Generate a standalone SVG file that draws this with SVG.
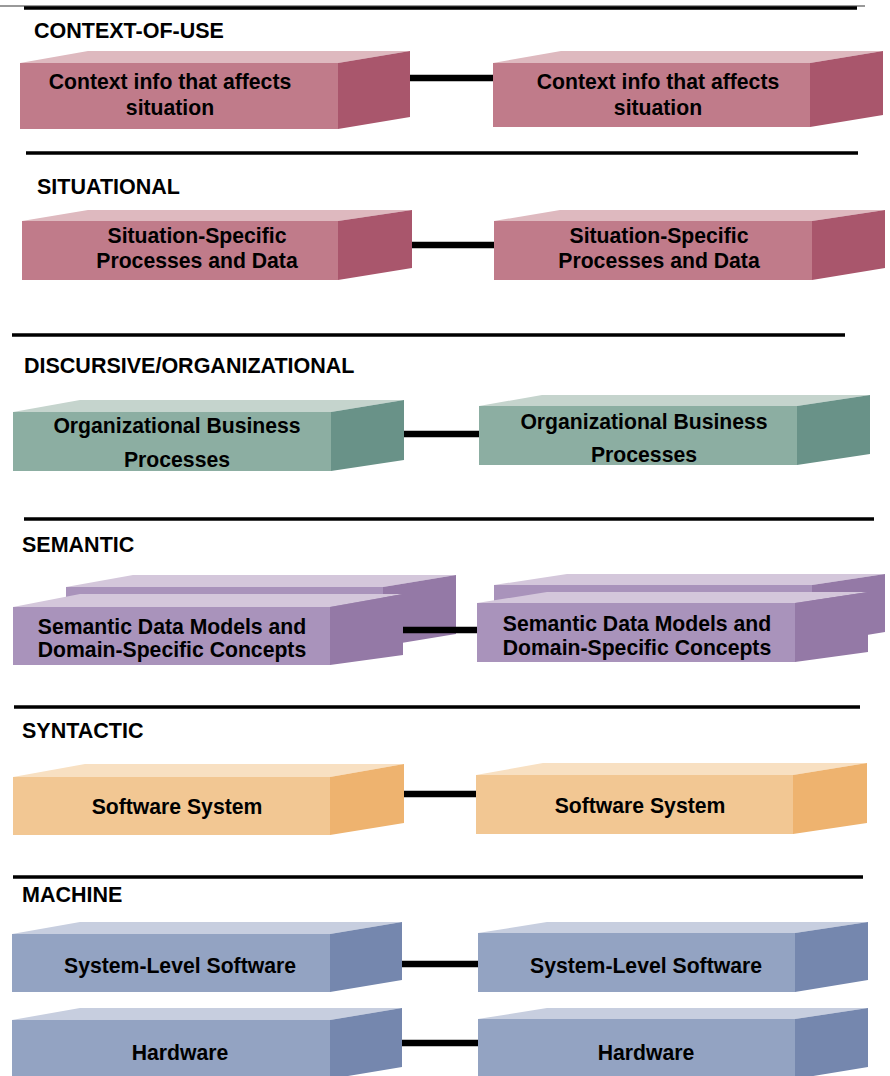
<svg xmlns="http://www.w3.org/2000/svg" width="890" height="1076" viewBox="0 0 890 1076">
<style>
text{font-family:"Liberation Sans",Arial,sans-serif;font-weight:bold;font-size:21.2px;fill:#000}
.lbl{text-anchor:start;font-size:21.5px}
.t{text-anchor:middle}
.sep{stroke:#000;stroke-width:3.5;fill:none}
.con{stroke:#000;stroke-width:6.5;fill:none}
.pk .f{fill:#C07B8A}.pk .u{fill:#DEB9BF}.pk .s{fill:#A9566C}
.gr .f{fill:#8CAEA2}.gr .u{fill:#C5D4CD}.gr .s{fill:#699288}
.pu .f{fill:#A993BB}.pu .u{fill:#D4C7DB}.pu .s{fill:#9479A6}
.or .f{fill:#F2C793}.or .u{fill:#F8E0C2}.or .s{fill:#EEB36F}
.bl .f{fill:#93A3C2}.bl .u{fill:#C7CEDF}.bl .s{fill:#7587AE}
</style>
<rect width="890" height="1076" fill="#fff"/>
<g id="separators">
<line x1="0" y1="6" x2="865" y2="6" stroke="#999" stroke-width="2"/>
<line class="sep" x1="24" y1="8" x2="857" y2="8"/>
<line class="sep" x1="26" y1="153" x2="858" y2="153"/>
<line class="sep" x1="12" y1="335" x2="845" y2="335"/>
<line class="sep" x1="24" y1="519" x2="874" y2="519"/>
<line class="sep" x1="14" y1="707" x2="860" y2="707"/>
<line class="sep" x1="13" y1="877" x2="863" y2="877"/>
</g>
<g id="labels">
<text class="lbl" x="34" y="38">CONTEXT-OF-USE</text>
<text class="lbl" x="37" y="194">SITUATIONAL</text>
<text class="lbl" x="24" y="373">DISCURSIVE/ORGANIZATIONAL</text>
<text class="lbl" x="22" y="552">SEMANTIC</text>
<text class="lbl" x="22" y="738">SYNTACTIC</text>
<text class="lbl" x="22" y="902">MACHINE</text>
</g>
<g id="ctx-left" class="pk">
<rect class="f" x="20" y="63" width="318" height="66"/>
<polygon class="u" points="20,63 88,51 410,51 338,63"/>
<polygon class="s" points="338,63 410,51 410,117 338,129"/>
<text class="t" x="170" y="89">Context info that affects</text>
<text class="t" x="170" y="115">situation</text>
</g>
<g id="ctx-right" class="pk">
<rect class="f" x="493" y="63" width="317" height="64"/>
<polygon class="u" points="493,63 561,51 883,51 810,63"/>
<polygon class="s" points="810,63 883,51 883,115 810,127"/>
<text class="t" x="658" y="89">Context info that affects</text>
<text class="t" x="658" y="115">situation</text>
</g>
<g id="sit-left" class="pk">
<rect class="f" x="22" y="221" width="316" height="59"/>
<polygon class="u" points="22,221 88,210 412,210 338,221"/>
<polygon class="s" points="338,221 412,210 412,268 338,280"/>
<text class="t" x="197" y="243">Situation-Specific</text>
<text class="t" x="197" y="268">Processes and Data</text>
</g>
<g id="sit-right" class="pk">
<rect class="f" x="494" y="221" width="318" height="59"/>
<polygon class="u" points="494,221 560,210 885,210 812,221"/>
<polygon class="s" points="812,221 885,210 885,268 812,280"/>
<text class="t" x="659" y="243">Situation-Specific</text>
<text class="t" x="659" y="268">Processes and Data</text>
</g>
<g id="disc-left" class="gr">
<rect class="f" x="13" y="412" width="318" height="59"/>
<polygon class="u" points="13,412 80,400 404,400 331,412"/>
<polygon class="s" points="331,412 404,400 404,460 331,471"/>
<text class="t" x="177" y="433">Organizational Business</text>
<text class="t" x="177" y="467">Processes</text>
</g>
<g id="disc-right" class="gr">
<rect class="f" x="479" y="406" width="318" height="59"/>
<polygon class="u" points="479,406 542,395 870,395 797,406"/>
<polygon class="s" points="797,406 870,395 870,454 797,465"/>
<text class="t" x="644" y="429">Organizational Business</text>
<text class="t" x="644" y="462">Processes</text>
</g>
<g id="sem-left-back" class="pu">
<rect class="f" x="66" y="587" width="317" height="59"/>
<polygon class="u" points="66,587 133,575 456,575 383,587"/>
<polygon class="s" points="383,587 456,575 456,634 383,646"/>
</g>
<g id="sem-right-back" class="pu">
<rect class="f" x="494" y="585" width="318" height="59"/>
<polygon class="u" points="494,585 567,574 885,574 812,585"/>
<polygon class="s" points="812,585 885,574 885,632 812,644"/>
</g>
<g id="connectors">
<line class="con" x1="410" y1="78" x2="493" y2="78"/>
<line class="con" x1="412" y1="245" x2="494" y2="245"/>
<line class="con" x1="404" y1="434" x2="479" y2="434"/>
<line class="con" x1="403" y1="630" x2="477" y2="630"/>
<line class="con" x1="404" y1="794" x2="476" y2="794"/>
<line class="con" x1="402" y1="964" x2="478" y2="964"/>
<line class="con" x1="402" y1="1043" x2="478" y2="1043"/>
</g>
<g id="sem-left" class="pu">
<rect class="f" x="13" y="607" width="317" height="58"/>
<polygon class="u" points="13,607 80,594 403,594 330,607"/>
<polygon class="s" points="330,607 403,594 403,655 330,665"/>
<text class="t" x="172" y="634">Semantic Data Models and</text>
<text class="t" x="172" y="657">Domain-Specific Concepts</text>
</g>
<g id="sem-right" class="pu">
<rect class="f" x="477" y="603" width="318" height="59"/>
<polygon class="u" points="477,603 547,592 868,592 795,603"/>
<polygon class="s" points="795,603 868,592 868,652 795,662"/>
<text class="t" x="637" y="631">Semantic Data Models and</text>
<text class="t" x="637" y="655">Domain-Specific Concepts</text>
</g>
<g id="syn-left" class="or">
<rect class="f" x="13" y="777" width="317" height="58"/>
<polygon class="u" points="13,777 85,764 404,764 330,777"/>
<polygon class="s" points="330,777 404,764 404,823 330,835"/>
<text class="t" x="177" y="814">Software System</text>
</g>
<g id="syn-right" class="or">
<rect class="f" x="476" y="775" width="317" height="59"/>
<polygon class="u" points="476,775 543,763 867,763 793,775"/>
<polygon class="s" points="793,775 867,763 867,823 793,834"/>
<text class="t" x="640" y="813">Software System</text>
</g>
<g id="sls-left" class="bl">
<rect class="f" x="12" y="934" width="318" height="58"/>
<polygon class="u" points="12,934 80,922 402,922 330,934"/>
<polygon class="s" points="330,934 402,922 402,980 330,992"/>
<text class="t" x="180" y="973">System-Level Software</text>
</g>
<g id="sls-right" class="bl">
<rect class="f" x="478" y="933" width="317" height="59"/>
<polygon class="u" points="478,933 547,922 868,922 795,933"/>
<polygon class="s" points="795,933 868,922 868,980 795,992"/>
<text class="t" x="646" y="973">System-Level Software</text>
</g>
<g id="hw-left" class="bl">
<rect class="f" x="12" y="1020" width="318" height="59"/>
<polygon class="u" points="12,1020 80,1008 402,1008 330,1020"/>
<polygon class="s" points="330,1020 402,1008 402,1067 330,1079"/>
<text class="t" x="180" y="1060">Hardware</text>
</g>
<g id="hw-right" class="bl">
<rect class="f" x="478" y="1019" width="317" height="60"/>
<polygon class="u" points="478,1019 547,1008 868,1008 795,1019"/>
<polygon class="s" points="795,1019 868,1008 868,1067 795,1079"/>
<text class="t" x="646" y="1060">Hardware</text>
</g>
</svg>
